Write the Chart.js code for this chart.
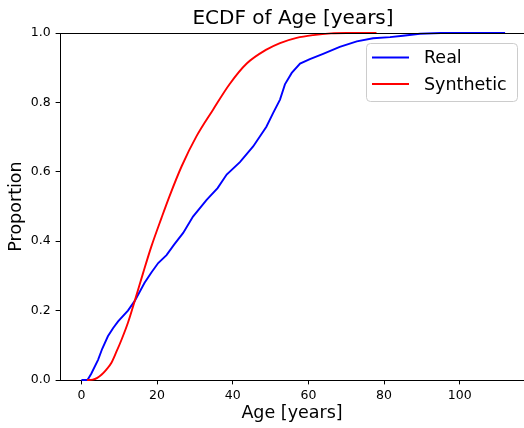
<!DOCTYPE html>
<html>
<head>
<meta charset="utf-8">
<script src="https://cdn.jsdelivr.net/npm/chart.js@4"></script>
<style>
body{margin:0;background:#fff}
canvas{display:block}
</style>
</head>
<body>
<canvas id="ecdf" width="524" height="428"></canvas>
<script>
const titleText="ECDF of Age [years]"
const xLabel="Age [years]"
const yLabel="Proportion"
const seriesNames=["Real","Synthetic"]

const realAge=[0,1.6,2.6,4.4,5.5,7.0,8.4,9.7,12.3,14.1,16.7,18.5,20.3,22.5,24.5,26.9,29.5,33.1,36,38.4,41.9,45.4,48.9,50.7,52.5,53.8,55.6,57.8,60.4,63.9,68.3,72.8,77.1,81.6,85,89.5,95,112]
const realProp=[0,0,0.018,0.058,0.09,0.126,0.15,0.169,0.2,0.228,0.28,0.31,0.337,0.36,0.39,0.424,0.471,0.519,0.553,0.592,0.628,0.673,0.73,0.77,0.808,0.852,0.885,0.912,0.925,0.94,0.96,0.976,0.985,0.988,0.992,0.998,1,1]

const synthAge=[1.5,3,4.2,5.3,6.6,7.9,9.2,10.6,12.3,14.1,16.3,18.5,21.2,23.3,26.5,30.4,34.8,39.2,43.7,48.9,52.5,56.9,61.3,66,70,78]
const synthProp=[0,0.001,0.006,0.015,0.03,0.049,0.08,0.116,0.165,0.228,0.308,0.385,0.468,0.53,0.616,0.702,0.779,0.853,0.912,0.952,0.971,0.986,0.994,0.999,1,1]

const xTicks=[0,20,40,60,80,100]
const yTicks=[0,0.2,0.4,0.6,0.8,1.0]

const fam="'DejaVu Sans', sans-serif"

function pts(xs,ys){
return xs.map((x,i)=>({x:x,y:ys[i]}))
}

// top spine, title and a matplotlib-like legend box
const decor={
id:"decor",
afterDraw(chart){
const ctx=chart.ctx
const a=chart.chartArea
ctx.save()
ctx.strokeStyle="#000"
ctx.lineWidth=1
ctx.beginPath()
ctx.moveTo(a.left,Math.round(a.top)+0.5)
ctx.lineTo(a.right,Math.round(a.top)+0.5)
ctx.stroke()

ctx.fillStyle="#000"
ctx.font="20px "+fam
ctx.textAlign="center"
ctx.textBaseline="middle"
ctx.fillText(titleText,293,19)

// legend
const bx=366,by=43,bw=151,bh=58
ctx.beginPath()
ctx.roundRect(bx+0.5,by+0.5,bw,bh,4)
ctx.fillStyle="rgba(255,255,255,0.8)"
ctx.fill()
ctx.strokeStyle="#cccccc"
ctx.lineWidth=1
ctx.stroke()
chart.data.datasets.forEach((d,i)=>{
const y=57.5+i*26.5
ctx.strokeStyle=d.borderColor
ctx.lineWidth=1.9
ctx.beginPath()
ctx.moveTo(372,y)
ctx.lineTo(409,y)
ctx.stroke()
ctx.fillStyle="#000"
ctx.font="17.5px "+fam
ctx.textAlign="left"
ctx.fillText(d.label,424,y+1)
})
ctx.restore()
}
}

const tickFont={family:fam,size:12.5}
const titleFont={family:fam,size:17.5}

new Chart(document.getElementById("ecdf"),{
type:"scatter",
data:{datasets:[
{label:seriesNames[0],data:pts(realAge,realProp),showLine:true,borderColor:"#0000ff",borderWidth:1.9,pointRadius:0,tension:0,order:1,clip:2},
{label:seriesNames[1],data:pts(synthAge,synthProp),showLine:true,borderColor:"#ff0000",borderWidth:1.9,pointRadius:0,cubicInterpolationMode:"monotone",order:0,clip:2}
]},
options:{
responsive:false,
animation:false,
layout:{padding:{top:33,right:0,bottom:0,left:0}},
plugins:{legend:{display:false},title:{display:false},tooltip:{enabled:false}},
scales:{
x:{
type:"linear",
min:-5.66,
max:117,
afterBuildTicks:s=>{s.ticks=xTicks.map(v=>({value:v}))},
afterFit:s=>{s.height=48},
ticks:{font:tickFont,color:"#000",padding:4,maxRotation:0,callback:v=>String(v)},
grid:{drawOnChartArea:false,drawTicks:true,tickLength:4.4,tickColor:"#000",tickWidth:1},
border:{display:true,color:"#000",width:1},
title:{display:true,text:xLabel,font:titleFont,color:"#000",padding:{top:0,bottom:4.5}}
},
y:{
type:"linear",
min:0,
max:1,
afterBuildTicks:s=>{s.ticks=yTicks.map(v=>({value:v}))},
afterFit:s=>{s.width=60},
ticks:{font:tickFont,color:"#000",padding:5,callback:v=>v.toFixed(1)},
grid:{drawOnChartArea:false,drawTicks:true,tickLength:4.4,tickColor:"#000",tickWidth:1},
border:{display:true,color:"#000",width:1},
title:{display:true,text:yLabel,font:titleFont,color:"#000",padding:{top:6,bottom:0}}
}
}
},
plugins:[decor]
})
</script>
</body>
</html>
